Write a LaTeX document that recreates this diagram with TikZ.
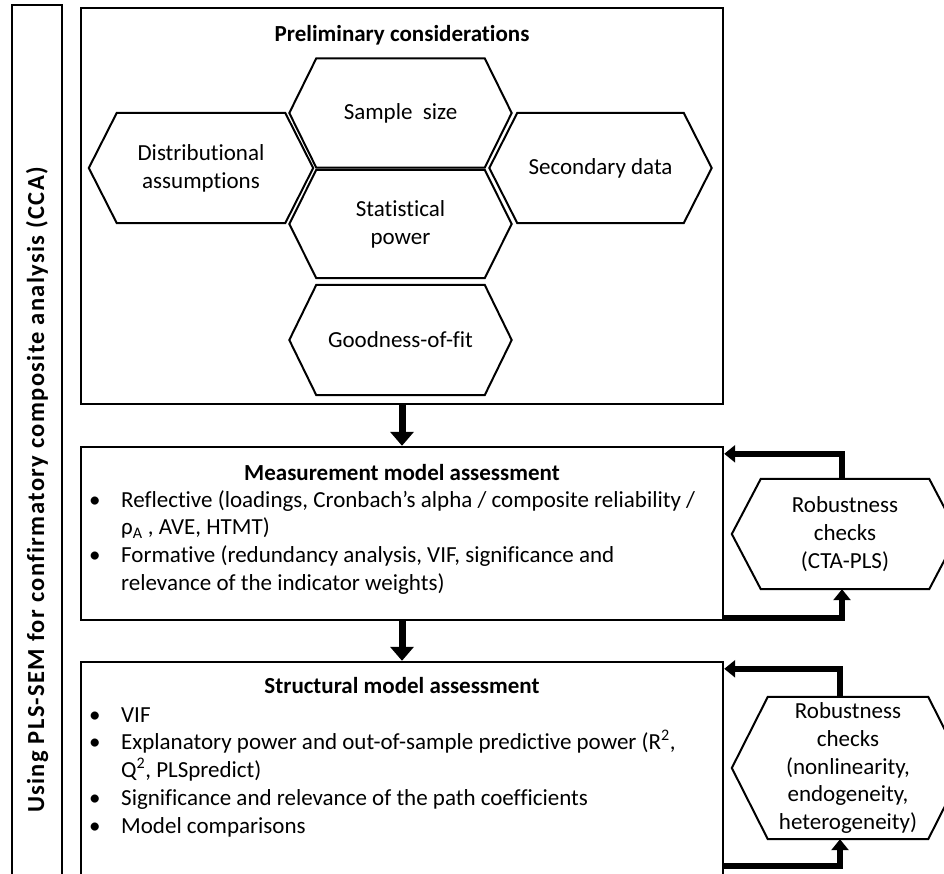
\documentclass[tikz,border=0pt]{standalone}
\usepackage{fontspec}
\setmainfont{Carlito}[Ligatures=NoCommon]
\newfontfamily\sidefont{Carlito}[LetterSpace=5.5, Ligatures=NoCommon]
\usetikzlibrary{arrows.meta}
\newcommand{\hexnode}[7]{%
  \node[hexbox, minimum width=#4pt, minimum height=#5pt] (#1) at (#2,#3) {#7};
  \draw[hexline] ([xshift=#6pt]#1.north west) -- ([xshift=-#6pt]#1.north east) -- (#1.east)
    -- ([xshift=-#6pt]#1.south east) -- ([xshift=#6pt]#1.south west) -- (#1.west) -- cycle;}
\tikzset{
  bigbox/.style={draw, line width=2.4pt, inner sep=0pt},
  hexbox/.style={inner sep=0pt, align=center, font=\fontsize{23}{27.8}\selectfont},
  hexline/.style={line width=2pt, line join=miter},
  titletext/.style={anchor=base, inner sep=0pt, font=\fontsize{23}{27.8}\selectfont\bfseries},
  listtext/.style={anchor=base west, inner sep=0pt, font=\fontsize{23}{27.8}\selectfont},
  bigarrow/.style={line width=7pt, -{Triangle[width=23pt,length=14pt]}},
  fbarrow/.style={line width=6.5pt, -{Triangle[width=17pt,length=11pt]}, line join=miter}
}
\begin{document}
\begin{tikzpicture}[x=1pt,y=-1pt]
\clip (0,0) rectangle (944,873);
\fill[white] (0,0) rectangle (944,873);

% side box
\node[bigbox, rotate=90, minimum width=970pt, minimum height=50pt,
  font=\sidefont\fontsize{24.5}{26}\selectfont\bfseries] (side) at (37,490)
  {Using PLS-SEM for confirmatory composite analysis (CCA)};

% preliminary box
\node[bigbox, minimum width=642pt, minimum height=396pt] (pre) at (402,206) {};
\node[titletext] (pretitle) at (402,41) {Preliminary considerations};

\hexnode{dist}{201}{168}{224}{110}{28}{Distributional\\assumptions}
\hexnode{samp}{400.5}{113}{222}{109}{27}{Sample~~size}
\hexnode{sec}{600.5}{168}{222}{110}{28}{Secondary data}
\hexnode{stat}{400.5}{224}{222}{108}{27}{Statistical\\power}
\hexnode{gof}{400.5}{340}{222}{110}{27}{Goodness-of-fit}

% measurement box
\node[bigbox, minimum width=642pt, minimum height=173pt] (mm) at (402,533.5) {};
\node[titletext] (mmtitle) at (402,480) {Measurement model assessment};
\node[listtext] (mmlist) at (89,507) {%
  \begin{tabular}[t]{@{}p{32pt}@{}l@{}}
  • & Reflective (loadings, Cronbach’s alpha / composite reliability /\\
    & ρ\textsubscript{A} , AVE, HTMT)\\
  • & Formative (redundancy analysis, VIF, significance and\\
    & relevance of the indicator weights)
  \end{tabular}};

% structural box
\node[bigbox, minimum width=642pt, minimum height=240pt] (sm) at (402,782) {};
\node[titletext] (smtitle) at (402,693) {Structural model assessment};
\node[listtext] (smlist) at (89,722) {%
  \begin{tabular}[t]{@{}p{32pt}@{}l@{}}
  • & VIF\\
  • & Explanatory power and out-of-sample predictive power (R\textsuperscript{2},\\
    & Q\textsuperscript{2}, PLSpredict)\\
  • & Significance and relevance of the path coefficients\\
  • & Model comparisons
  \end{tabular}};

% robustness hexagons
\hexnode{rob1}{845}{534}{226}{110}{29}{Robustness\\checks\\(CTA-PLS)}
\hexnode{rob2}{848}{768}{232}{142}{36}{Robustness\\checks\\(nonlinearity,\\endogeneity,\\heterogeneity)}

% main arrows
\draw[bigarrow] (pre.south) -- (mm.north);
\draw[bigarrow] (mm.south) -- (sm.north);

% feedback loops
\draw[fbarrow] ([xshift=-3pt]rob1.north) |- ([yshift=-8pt]mm.north east);
\draw[fbarrow] ([yshift=3pt]mm.south east) -| ([xshift=-3pt]rob1.south);
\draw[fbarrow] ([xshift=-8pt]rob2.north) |- ([yshift=-8pt]sm.north east);
\coordinate (smfoot) at ([yshift=-205pt]sm.north east);
\draw[fbarrow] (smfoot) -| ([xshift=-8pt]rob2.south);
\end{tikzpicture}
\end{document}
